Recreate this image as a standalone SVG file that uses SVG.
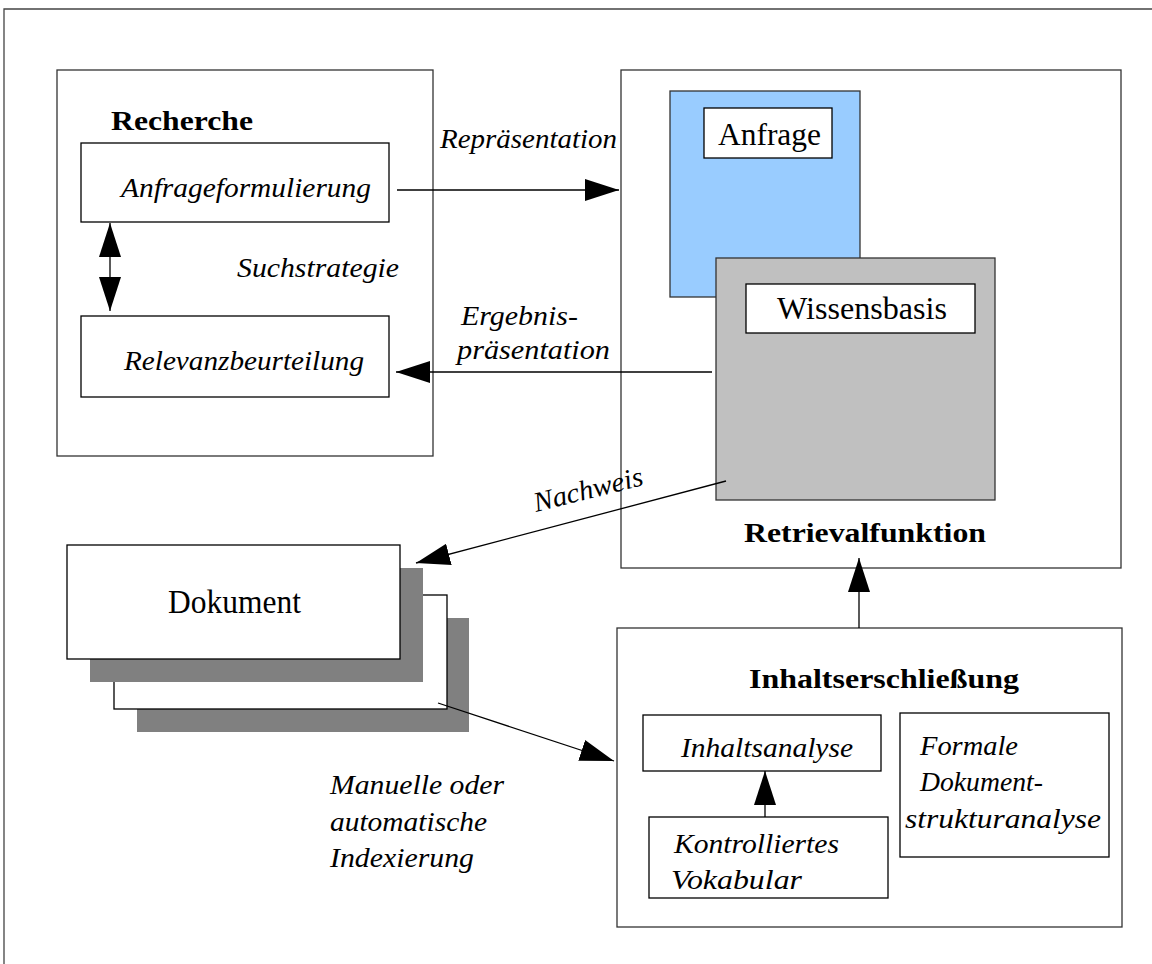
<svg xmlns="http://www.w3.org/2000/svg" width="1152" height="964" viewBox="0 0 1152 964">
  <style>
    .box { fill: #ffffff; stroke: #000000; stroke-width: 1.3; }
    .panel { fill: #ffffff; stroke: #333333; stroke-width: 1.3; }
    .t { font-family: "Liberation Serif", "Times New Roman", Times, serif; fill: #000000; }
    .it { font-style: italic; font-size: 28px; }
    .bold { font-weight: bold; font-size: 28px; }
    .reg { font-size: 31px; }
    .conn { stroke: #000000; stroke-width: 1.3; fill: none; }
  </style>
  <defs>
    <marker id="head" markerUnits="userSpaceOnUse" markerWidth="36" markerHeight="24" refX="34" refY="12" orient="auto-start-reverse">
      <path d="M0,1 L34,12 L0,23 Z" fill="#000000"/>
    </marker>
  </defs>

  <rect width="1152" height="964" fill="#ffffff"/>
  <!-- page frame -->
  <path d="M4,964 V9 H1152" fill="none" stroke="#444444" stroke-width="1.3"/>

  <g id="recherche">
    <rect class="panel" x="57" y="70" width="376" height="386"/>
    <text class="t bold" x="111" y="130" textLength="142" lengthAdjust="spacingAndGlyphs">Recherche</text>
  </g>
  <g id="anfrageformulierung">
    <rect class="box" x="81" y="143" width="308" height="79"/>
    <text class="t it" x="121" y="197" textLength="250" lengthAdjust="spacingAndGlyphs">Anfrageformulierung</text>
  </g>
  <g id="relevanzbeurteilung">
    <rect class="box" x="81" y="316" width="308" height="81"/>
    <text class="t it" x="124" y="370" textLength="240" lengthAdjust="spacingAndGlyphs">Relevanzbeurteilung</text>
  </g>

  <g id="retrievalfunktion">
    <rect class="panel" x="621" y="70" width="500" height="498"/>
    <text class="t bold" x="744" y="542" textLength="242" lengthAdjust="spacingAndGlyphs">Retrievalfunktion</text>
  </g>
  <g id="anfrage">
    <rect x="670" y="91" width="190" height="206" fill="#99ccff" stroke="#333333" stroke-width="1.3"/>
    <rect class="box" x="704" y="108" width="128" height="50"/>
    <text class="t reg" x="718" y="145" textLength="103" lengthAdjust="spacingAndGlyphs">Anfrage</text>
  </g>
  <g id="wissensbasis">
    <rect x="716" y="258" width="279" height="242" fill="#c0c0c0" stroke="#333333" stroke-width="1.3"/>
    <rect class="box" x="746" y="284" width="229" height="49"/>
    <text class="t reg" x="777" y="319" textLength="170" lengthAdjust="spacingAndGlyphs">Wissensbasis</text>
  </g>

  <g id="dokument">
    <rect x="137" y="618" width="332" height="114" fill="#808080"/>
    <rect class="box" x="114" y="595" width="333" height="114"/>
    <rect x="90" y="568" width="333" height="114" fill="#808080"/>
    <rect class="box" x="67" y="545" width="333" height="114"/>
    <text class="t" x="168" y="613" font-size="33" textLength="133" lengthAdjust="spacingAndGlyphs">Dokument</text>
  </g>

  <g id="inhaltserschliessung">
    <rect class="panel" x="617" y="628" width="505" height="299"/>
    <text class="t bold" x="749" y="688" textLength="270" lengthAdjust="spacingAndGlyphs">Inhaltserschließung</text>
  </g>
  <g id="inhaltsanalyse">
    <rect class="box" x="643" y="715" width="238" height="56"/>
    <text class="t it" x="681" y="757" textLength="172" lengthAdjust="spacingAndGlyphs">Inhaltsanalyse</text>
  </g>
  <g id="vokabular">
    <rect class="box" x="649" y="817" width="239" height="81"/>
    <text class="t it" x="674" y="853" textLength="165" lengthAdjust="spacingAndGlyphs">Kontrolliertes</text>
    <text class="t it" x="671" y="889" textLength="131" lengthAdjust="spacingAndGlyphs">Vokabular</text>
  </g>
  <g id="strukturanalyse">
    <rect class="box" x="900" y="713" width="209" height="144"/>
    <text class="t it" x="920" y="755" textLength="98" lengthAdjust="spacingAndGlyphs">Formale</text>
    <text class="t it" x="920" y="791" textLength="123" lengthAdjust="spacingAndGlyphs">Dokument-</text>
    <text class="t it" x="905" y="828" textLength="196" lengthAdjust="spacingAndGlyphs">strukturanalyse</text>
  </g>

  <g id="connectors">
    <line class="conn" x1="110" y1="223" x2="110" y2="311" marker-start="url(#head)" marker-end="url(#head)"/>
    <line class="conn" x1="397" y1="190" x2="619" y2="190" marker-end="url(#head)"/>
    <line class="conn" x1="712" y1="372" x2="396" y2="372" marker-end="url(#head)"/>
    <line class="conn" x1="726" y1="481" x2="416" y2="563" marker-end="url(#head)"/>
    <line class="conn" x1="438" y1="703" x2="614" y2="761" marker-end="url(#head)"/>
    <line class="conn" x1="765" y1="817" x2="765" y2="771" marker-end="url(#head)"/>
    <line class="conn" x1="859" y1="628" x2="859" y2="558" marker-end="url(#head)"/>

    <text class="t it" x="237" y="277" textLength="162" lengthAdjust="spacingAndGlyphs">Suchstrategie</text>
    <text class="t it" x="440" y="148" textLength="177" lengthAdjust="spacingAndGlyphs">Repräsentation</text>
    <text class="t it" x="461" y="325" textLength="117" lengthAdjust="spacingAndGlyphs">Ergebnis-</text>
    <text class="t it" x="457" y="359" textLength="153" lengthAdjust="spacingAndGlyphs">präsentation</text>
    <text class="t it" transform="translate(536,512) rotate(-14)" x="0" y="0" textLength="112" lengthAdjust="spacingAndGlyphs">Nachweis</text>
    <text class="t it" x="330" y="794" textLength="174" lengthAdjust="spacingAndGlyphs">Manuelle oder</text>
    <text class="t it" x="330" y="831" textLength="157" lengthAdjust="spacingAndGlyphs">automatische</text>
    <text class="t it" x="330" y="867" textLength="144" lengthAdjust="spacingAndGlyphs">Indexierung</text>
  </g>
</svg>
